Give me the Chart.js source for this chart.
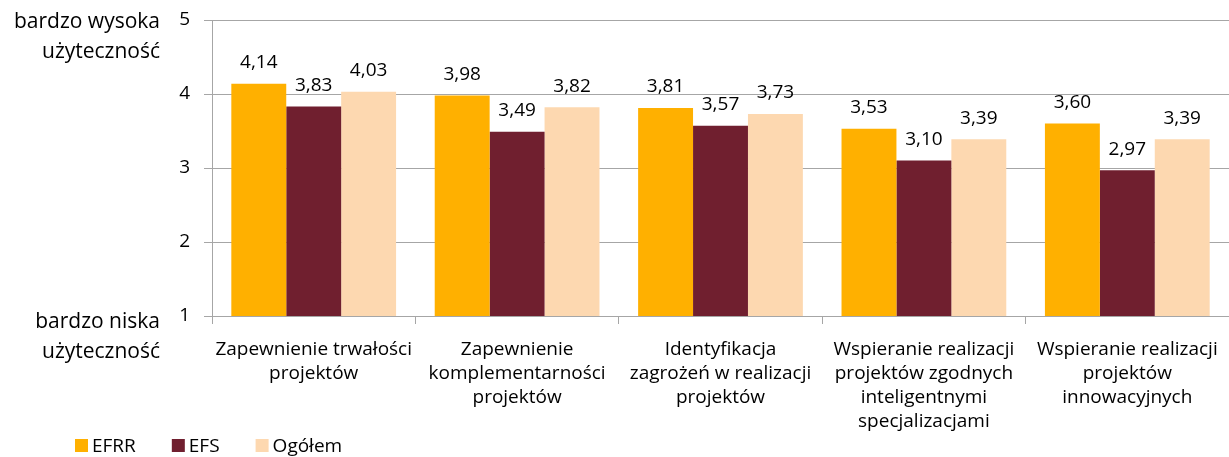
<!DOCTYPE html>
<html>
<head>
<meta charset="utf-8">
<script src="https://cdn.jsdelivr.net/npm/chart.js@4.4.1/dist/chart.umd.min.js"></script>
<style>
    html, body { margin: 0; padding: 0; background: #fff; overflow: hidden; }
    canvas { display: block; }
</style>
</head>
<body>
<canvas id="chart" width="1229" height="457"></canvas>
<script>
// Data
const categories = [
    ['Zapewnienie trwałości', 'projektów'],
    ['Zapewnienie', 'komplementarności', 'projektów'],
    ['Identyfikacja', 'zagrożeń w realizacji', 'projektów'],
    ['Wspieranie realizacji', 'projektów zgodnych', 'inteligentnymi', 'specjalizacjami'],
    ['Wspieranie realizacji', 'projektów', 'innowacyjnych']
];
const efrr = [4.14, 3.98, 3.81, 3.53, 3.60];
const efs = [3.83, 3.49, 3.57, 3.10, 2.97];
const ogolem = [4.03, 3.82, 3.73, 3.39, 3.39];
const yTicks = [1, 2, 3, 4, 5];

const FONT = '"Open Sans", "Noto Sans", sans-serif';
const TEXT = '#000';
const GRID = '#A6A6A6';

// values above bars, with comma decimals
const valueLabels = {
    id: 'valueLabels',
    afterDatasetsDraw(chart) {
        const ctx = chart.ctx;
        ctx.save();
        ctx.font = '19px ' + FONT;
        ctx.fillStyle = TEXT;
        ctx.textAlign = 'center';
        ctx.textBaseline = 'middle';
        chart.data.datasets.forEach((ds, i) => {
            chart.getDatasetMeta(i).data.forEach((bar, j) => {
                const txt = ds.data[j].toFixed(2).replace('.', ',');
                ctx.fillText(txt, bar.x, bar.y - 21);
            });
        });
        ctx.restore();
    }
};

// side captions of the y axis and legend in the bottom left corner
const extras = {
    id: 'extras',
    afterDraw(chart) {
        const ctx = chart.ctx;
        const y = chart.scales.y;
        ctx.save();
        ctx.font = '21px ' + FONT;
        ctx.fillStyle = TEXT;
        ctx.textAlign = 'right';
        ctx.textBaseline = 'middle';
        const top = y.getPixelForValue(5);
        const bottom = y.getPixelForValue(1);
        ctx.fillText('bardzo wysoka', 160, top + 2);
        ctx.fillText('użyteczność', 160, top + 32);
        ctx.fillText('bardzo niska', 160, bottom + 6);
        ctx.fillText('użyteczność', 160, bottom + 36);

        // legend
        ctx.font = '19px ' + FONT;
        ctx.textAlign = 'left';
        let x = 75;
        const ly = 446;
        chart.data.datasets.forEach(ds => {
            ctx.fillStyle = ds.backgroundColor;
            ctx.fillRect(x, ly - 7, 13, 13);
            ctx.fillStyle = TEXT;
            ctx.fillText(ds.label, x + 17, ly + 1);
            x += 17 + ctx.measureText(ds.label).width + 36;
        });
        ctx.restore();
    }
};

new Chart(document.getElementById('chart'), {
    type: 'bar',
    data: {
        labels: categories,
        datasets: [
            { label: 'EFRR', data: efrr, backgroundColor: '#FFB000' },
            { label: 'EFS', data: efs, backgroundColor: '#701F2F' },
            { label: 'Ogółem', data: ogolem, backgroundColor: '#FDD8B0' }
        ]
    },
    options: {
        responsive: false,
        animation: false,
        devicePixelRatio: 1,
        layout: { padding: { top: 20, right: 0, left: 0, bottom: 0 } },
        plugins: {
            legend: { display: false },
            tooltip: { enabled: false }
        },
        datasets: {
            bar: { categoryPercentage: 0.81, barPercentage: 1.0 }
        },
        scales: {
            x: {
                afterFit(scale) {
                    scale.height = 141;
                    scale.paddingLeft = 0;
                    scale.paddingRight = 0;
                },
                grid: {
                    offset: true,
                    drawOnChartArea: false,
                    drawTicks: true,
                    tickLength: 8,
                    color: GRID
                },
                border: { color: GRID, width: 1 },
                ticks: {
                    color: TEXT,
                    font: { family: FONT, size: 19, lineHeight: 1.26 },
                    padding: 14,
                    maxRotation: 0,
                    autoSkip: false
                }
            },
            y: {
                min: 1,
                max: 5,
                afterFit(scale) {
                    scale.width = 212;
                    scale.paddingTop = 0;
                    scale.paddingBottom = 0;
                },
                afterBuildTicks(scale) { scale.ticks = yTicks.map(v => ({ value: v })); },
                grid: { color: GRID, tickLength: 8 },
                border: { color: GRID, width: 1 },
                ticks: {
                    color: TEXT,
                    font: { family: FONT, size: 19 },
                    padding: 14
                }
            }
        }
    },
    plugins: [valueLabels, extras]
});
</script>
</body>
</html>
